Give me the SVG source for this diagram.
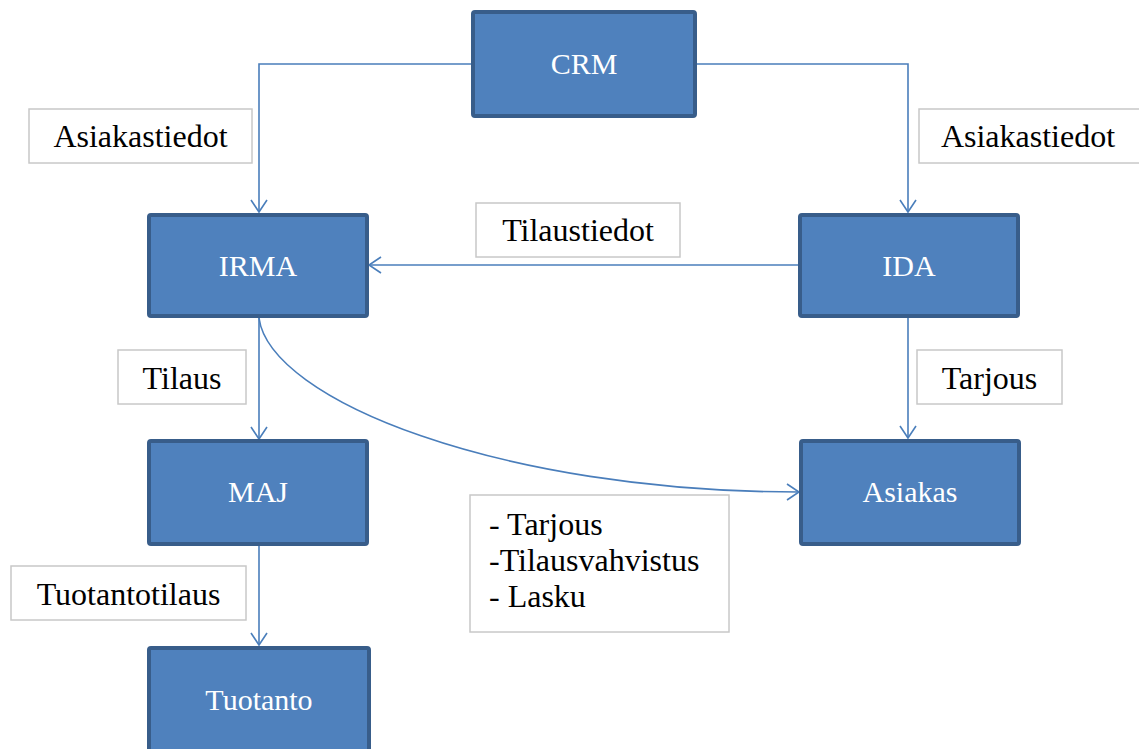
<svg xmlns="http://www.w3.org/2000/svg" width="1139" height="749" viewBox="0 0 1139 749">
  <style>
    .node rect { fill: #4F81BD; stroke: #385D8A; stroke-width: 4; }
    .node text { fill: #ffffff; font-size: 30px; text-anchor: middle; }
    .label rect { fill: #ffffff; stroke: #C8C8C8; stroke-width: 1.5; }
    .label text { fill: #000000; font-size: 32px; }
    .edge { fill: none; stroke: #4A7EBB; stroke-width: 1.6; marker-end: url(#arrow); }
  </style>
  <defs>
    <marker id="arrow" markerUnits="userSpaceOnUse" markerWidth="20" markerHeight="20" viewBox="-14 -10 16 20" refX="0" refY="0" orient="auto">
      <path d="M-12,-8 L0,0 L-12,8" fill="none" stroke="#4A7EBB" stroke-width="1.6"/>
    </marker>
  </defs>
  <rect width="1139" height="749" fill="#ffffff"/>

  <g id="connectors">
    <path class="edge" d="M472,64 H259 V212"/>
    <path class="edge" d="M696,64 H908 V212"/>
    <path class="edge" d="M800,265 H369"/>
    <path class="edge" d="M259,318 V439"/>
    <path class="edge" d="M908,318 V438"/>
    <path class="edge" d="M259,546 V645"/>
    <path class="edge" d="M259,318 C270,400 500,492 799,492"/>
  </g>

  <g font-family="'Liberation Serif', 'Times New Roman', serif">
    <g id="label-asiakastiedot-left" class="label">
      <rect x="29" y="109" width="223" height="54"/>
      <text x="140.5" y="147" text-anchor="middle">Asiakastiedot</text>
    </g>
    <g id="label-asiakastiedot-right" class="label">
      <rect x="919" y="109" width="225" height="54"/>
      <text x="1028" y="147" text-anchor="middle">Asiakastiedot</text>
    </g>
    <g id="label-tilaustiedot" class="label">
      <rect x="476" y="203" width="204" height="54"/>
      <text x="578" y="241" text-anchor="middle">Tilaustiedot</text>
    </g>
    <g id="label-tilaus" class="label">
      <rect x="118" y="350" width="128" height="54"/>
      <text x="182" y="389" text-anchor="middle">Tilaus</text>
    </g>
    <g id="label-tarjous" class="label">
      <rect x="917" y="350" width="145" height="54"/>
      <text x="989.5" y="389" text-anchor="middle">Tarjous</text>
    </g>
    <g id="label-tuotantotilaus" class="label">
      <rect x="11" y="566" width="235" height="54"/>
      <text x="128.5" y="605" text-anchor="middle">Tuotantotilaus</text>
    </g>
    <g id="label-documents" class="label">
      <rect x="470" y="495" width="259" height="137"/>
      <text x="489" y="535">- Tarjous</text>
      <text x="489" y="571">-Tilausvahvistus</text>
      <text x="489" y="607">- Lasku</text>
    </g>

    <g id="node-crm" class="node">
      <rect x="473" y="12" width="222" height="104" rx="2"/>
      <text x="584" y="74">CRM</text>
    </g>
    <g id="node-irma" class="node">
      <rect x="149" y="215" width="218" height="101" rx="2"/>
      <text x="258" y="276">IRMA</text>
    </g>
    <g id="node-ida" class="node">
      <rect x="800" y="215" width="218" height="101" rx="2"/>
      <text x="909" y="276">IDA</text>
    </g>
    <g id="node-maj" class="node">
      <rect x="149" y="441" width="218" height="103" rx="2"/>
      <text x="258" y="502">MAJ</text>
    </g>
    <g id="node-asiakas" class="node">
      <rect x="801" y="441" width="218" height="103" rx="2"/>
      <text x="910" y="502">Asiakas</text>
    </g>
    <g id="node-tuotanto" class="node">
      <rect x="149" y="648" width="220" height="110" rx="2"/>
      <text x="259" y="710">Tuotanto</text>
    </g>
  </g>
</svg>
